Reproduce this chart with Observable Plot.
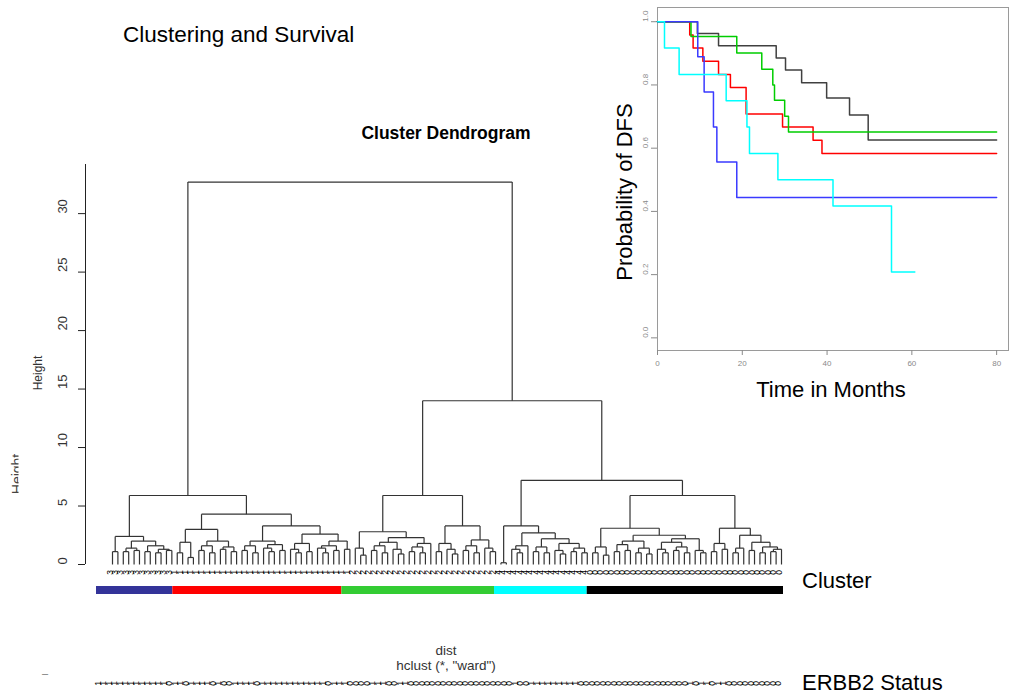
<!DOCTYPE html>
<html>
<head>
<meta charset="utf-8">
<script src="https://cdn.jsdelivr.net/npm/d3@7"></script>
<script src="https://cdn.jsdelivr.net/npm/@observablehq/plot@0.6"></script>
<style>
  body { margin: 0; background: #fff; font-family: "Liberation Sans", Arial, sans-serif; }
  #page { position: relative; width: 1010px; height: 697px; overflow: hidden; background: #fff; }
  #page > div { position: absolute; }
</style>
</head>
<body>
<div id="page"></div>
<script>
// ---------- Dendrogram data ----------
// Clusters in leaf order, their sizes and colours
const clusterIds = [3, 1, 2, 4, 0];
const clusterSizes = [12, 33, 27, 17, 36];
const clusterColors = ["#333399", "#ff0000", "#33cc33", "#00ffff", "#000000"];
// Widths of the cluster colour strip (in samples)
const barCounts = [14, 31, 28, 17, 36];
// Merge height between each pair of neighbouring leaves (ordered dendrogram)
const gapHeights = [
  // cluster 3
  1.1, 2.4, 1.1, 1.4, 1.2, 2.0, 1.1, 1.6, 1.0, 1.3, 1.2,
  5.9,
  // cluster 1
  1.0, 1.9, 0.6, 3.0, 1.2, 1.6, 1.0, 2.0, 1.3, 1.5, 1.1, 4.3, 1.2, 1.6, 1.0, 2.0,
  1.4, 1.1, 1.7, 1.2, 3.3, 1.3, 1.0, 1.8, 1.1, 2.6, 1.4, 1.0, 1.6, 1.2, 2.0, 1.3,
  32.7,
  // cluster 2
  1.4, 0.8, 2.8, 1.2, 1.6, 1.0, 1.9, 1.3, 0.9, 2.3, 1.1, 1.5, 1.0, 1.8, 5.9,
  1.1, 1.8, 1.3, 0.9, 3.3, 1.2, 1.6, 1.0, 2.1, 1.4, 1.1,
  14.0,
  // cluster 4
  0.15, 3.3, 1.3, 1.0, 1.6, 2.7, 1.1, 1.5, 1.0, 2.2, 1.2, 0.9, 1.8, 1.1, 1.4, 1.0,
  7.2,
  // cluster 0
  1.0, 1.5, 0.8, 3.1, 1.1, 1.7, 1.2, 2.0, 1.0, 1.4, 0.9, 2.5, 1.3, 1.0, 1.9, 1.2,
  1.5, 1.0, 2.2, 1.2, 1.0, 5.9, 1.1, 1.8, 1.3, 3.1, 1.0, 1.4, 2.5, 1.2, 1.9, 1.0,
  1.5, 1.1, 1.3
];
const heightTicks = [0, 5, 10, 15, 20, 25, 30];
// ERBB2 status per sample (1 / 0)
const erbb2Status =
  "1111111111111" + "0" + "11" + "0" + "1111" + "0" + "1" + "00" + "1111" + "0" +
  "111111111111" + "0" + "111" + "0000" + "111" + "00" + "11" +
  "0000000000000000000" + "1" + "00" + "111111111" +
  "00000000000000000000" + "1" + "0" + "11" + "0" + "11" + "0000000000";

// ---------- Survival (DFS) data, one step curve per cluster ----------
const time0 = [0, 9.4, 14.4, 28.0, 30.2, 34.0, 39.9, 45.3, 49.7, 80];
const surv0 = [1, 0.963, 0.924, 0.885, 0.847, 0.807, 0.759, 0.705, 0.626, 0.626];
const time1 = [0, 7.6, 8.4, 10.7, 14.4, 17.2, 20.9, 29.5, 36.7, 38.8, 80];
const surv1 = [1, 0.958, 0.917, 0.875, 0.833, 0.792, 0.708, 0.667, 0.625, 0.583, 0.583];
const time2 = [0, 7.9, 18.7, 24.6, 27.2, 27.6, 30.0, 30.9, 80];
const surv2 = [1, 0.953, 0.901, 0.850, 0.800, 0.752, 0.701, 0.651, 0.651];
const time3 = [0, 9.5, 11.0, 13.2, 14.0, 18.7, 80];
const surv3 = [1, 0.889, 0.778, 0.667, 0.556, 0.444, 0.444];
const time4 = [0, 1.65, 5.1, 16.2, 21.1, 21.7, 28.4, 41.4, 55.2, 60.7];
const surv4 = [1, 0.917, 0.833, 0.750, 0.667, 0.583, 0.500, 0.417, 0.208, 0.208];
const kmColors = ["#404040", "#ff0000", "#00cd00", "#3a3aff", "#00ffff"];
const kmXTicks = [0, 20, 40, 60, 80];
const kmYTicks = [0, 0.2, 0.4, 0.6, 0.8, 1.0];

const FONT = "Liberation Sans, Arial, sans-serif";
const page = document.getElementById("page");
function place(node, left, top) {
  const d = document.createElement("div");
  d.style.left = left + "px";
  d.style.top = top + "px";
  d.appendChild(node);
  page.appendChild(d);
}

// ---------- Build dendrogram segments from neighbour merge heights ----------
const nLeaves = gapHeights.length + 1;
const segments = [];
function build(lo, hi) {
  if (lo === hi) return {x: lo, h: 0};
  let k = lo;
  for (let i = lo; i < hi; i++) if (gapHeights[i] > gapHeights[k]) k = i;
  const a = build(lo, k), b = build(k + 1, hi), h = gapHeights[k];
  segments.push({x1: a.x, y1: a.h, x2: a.x, y2: h});
  segments.push({x1: b.x, y1: b.h, x2: b.x, y2: h});
  segments.push({x1: a.x, y1: h, x2: b.x, y2: h});
  return {x: (a.x + b.x) / 2, h};
}
build(0, nLeaves - 1);
const leafLabels = clusterIds.flatMap((id, j) => Array(clusterSizes[j]).fill(String(id)));
const leaves = leafLabels.map((label, i) => ({i, label}));

const dendroX = [-5.005, nLeaves - 1];
const dendroY = [0, 34.2];

const dendro = Plot.plot({
  width: 800, height: 440,
  marginLeft: 85, marginRight: 19, marginTop: 14, marginBottom: 26,
  x: {domain: dendroX, axis: null},
  y: {domain: dendroY},
  style: {fontFamily: FONT, color: "#222", background: "transparent", overflow: "visible"},
  marks: [
    Plot.ruleX([dendroX[0]], {y1: dendroY[0], y2: dendroY[1], stroke: "#222"}),
    Plot.axisY({ticks: heightTicks, tickSize: 7, tickFormat: () => "", label: null, stroke: "#222"}),
    Plot.text(heightTicks, {y: d => d, text: d => String(d), frameAnchor: "left", dx: -23, rotate: -90, fontSize: 13, fill: "#333"}),
    Plot.link(segments, {x1: "x1", y1: "y1", x2: "x2", y2: "y2", stroke: "#333", strokeWidth: 1.2}),
    Plot.text(leaves, {x: "i", text: "label", frameAnchor: "bottom", dy: 8, rotate: -90, fontSize: 8.5, fill: "#000"})
  ]
});
place(dendro, 0, 150);

// ---------- Cluster colour strip ----------
let acc = 0;
const barData = barCounts.map((n, j) => {
  const seg = {x1: acc, x2: acc + n, color: clusterColors[j]};
  acc += n;
  return seg;
});
const strip = Plot.plot({
  width: 800, height: 8,
  marginLeft: 96, marginRight: 17, marginTop: 0, marginBottom: 0,
  x: {domain: [0, acc], axis: null},
  color: {type: "identity"},
  style: {background: "transparent"},
  marks: [Plot.rectX(barData, {x1: "x1", x2: "x2", fill: "color"})]
});
place(strip, 0, 586);

// ---------- ERBB2 status row ----------
const erbbData = erbb2Status.split("").map((v, i) => ({i, v}));
const erbb = Plot.plot({
  width: 800, height: 14,
  marginLeft: 97.5, marginRight: 22, marginTop: 0, marginBottom: 0,
  x: {domain: [0, erbbData.length - 1], axis: null},
  style: {fontFamily: FONT, background: "transparent", overflow: "visible"},
  marks: [Plot.text(erbbData, {x: "i", text: "v", frameAnchor: "middle", rotate: -90, fontSize: 8.5, fill: "#000"})]
});
place(erbb, 0, 676);

// ---------- Kaplan-Meier panel ----------
const kmTimes = [time0, time1, time2, time3, time4];
const kmSurvs = [surv0, surv1, surv2, surv3, surv4];
const kmData = kmTimes.flatMap((ts, g) => ts.map((t, k) => ({t, s: kmSurvs[g][k], g, color: kmColors[g]})));
const km = Plot.plot({
  width: 410, height: 400,
  marginLeft: 57, marginRight: 2, marginTop: 7, marginBottom: 50,
  x: {domain: [0, 82.8]},
  y: {domain: [-0.04, 1.045]},
  color: {type: "identity"},
  style: {fontFamily: FONT, color: "#8a8a8a", background: "transparent", overflow: "visible"},
  marks: [
    Plot.frame({stroke: "#9a9a9a"}),
    Plot.axisX({ticks: kmXTicks, tickSize: 5, tickPadding: 5, fontSize: 8, label: null}),
    Plot.axisY({ticks: kmYTicks, tickSize: 6, tickFormat: () => "", label: null}),
    Plot.text(kmYTicks, {y: d => d, text: d => d.toFixed(1), frameAnchor: "left", dx: -12, rotate: -90, fontSize: 8, fill: "#8a8a8a"}),
    Plot.line(kmData, {x: "t", y: "s", z: "g", stroke: "color", curve: "step-after", strokeWidth: 1.5})
  ]
});
place(km, 600, 0);

// ---------- Titles and labels ----------
const svg = d3.create("svg")
  .attr("width", 1010).attr("height", 697)
  .style("position", "absolute").style("left", "0px").style("top", "0px")
  .style("pointer-events", "none")
  .attr("font-family", FONT);

svg.append("text").attr("x", 123).attr("y", 42).attr("font-size", 22.5).attr("fill", "#000")
  .text("Clustering and Survival");
svg.append("text").attr("x", 446).attr("y", 139).attr("font-size", 17.5).attr("font-weight", "bold")
  .attr("text-anchor", "middle").attr("fill", "#000").text("Cluster Dendrogram");
svg.append("text").attr("transform", "translate(42,373) rotate(-90)").attr("font-size", 12)
  .attr("text-anchor", "middle").attr("fill", "#333").text("Height");

// partially hidden axis title at the far left edge
svg.append("clipPath").attr("id", "edgeclip")
  .append("rect").attr("x", 0).attr("y", 420).attr("width", 18.5).attr("height", 110);
svg.append("g").attr("clip-path", "url(#edgeclip)")
  .append("text").attr("transform", "translate(22,474) rotate(-90)").attr("font-size", 14)
  .attr("text-anchor", "middle").attr("fill", "#444").text("Height");

svg.append("text").attr("x", 42).attr("y", 677).attr("font-size", 11).attr("fill", "#777").text("–");
svg.append("text").attr("x", 446).attr("y", 655).attr("font-size", 13.5)
  .attr("text-anchor", "middle").attr("fill", "#333").text("dist");
svg.append("text").attr("x", 446).attr("y", 670).attr("font-size", 13.5)
  .attr("text-anchor", "middle").attr("fill", "#333").text('hclust (*, "ward")');
svg.append("text").attr("x", 802).attr("y", 588).attr("font-size", 22).attr("fill", "#000").text("Cluster");
svg.append("text").attr("x", 802).attr("y", 690).attr("font-size", 22).attr("fill", "#000").text("ERBB2 Status");
svg.append("text").attr("transform", "translate(632,192) rotate(-90)").attr("font-size", 22)
  .attr("text-anchor", "middle").attr("fill", "#000").text("Probability of DFS");
svg.append("text").attr("x", 831).attr("y", 397).attr("font-size", 22)
  .attr("text-anchor", "middle").attr("fill", "#000").text("Time in Months");

page.appendChild(svg.node());
</script>
</body>
</html>
